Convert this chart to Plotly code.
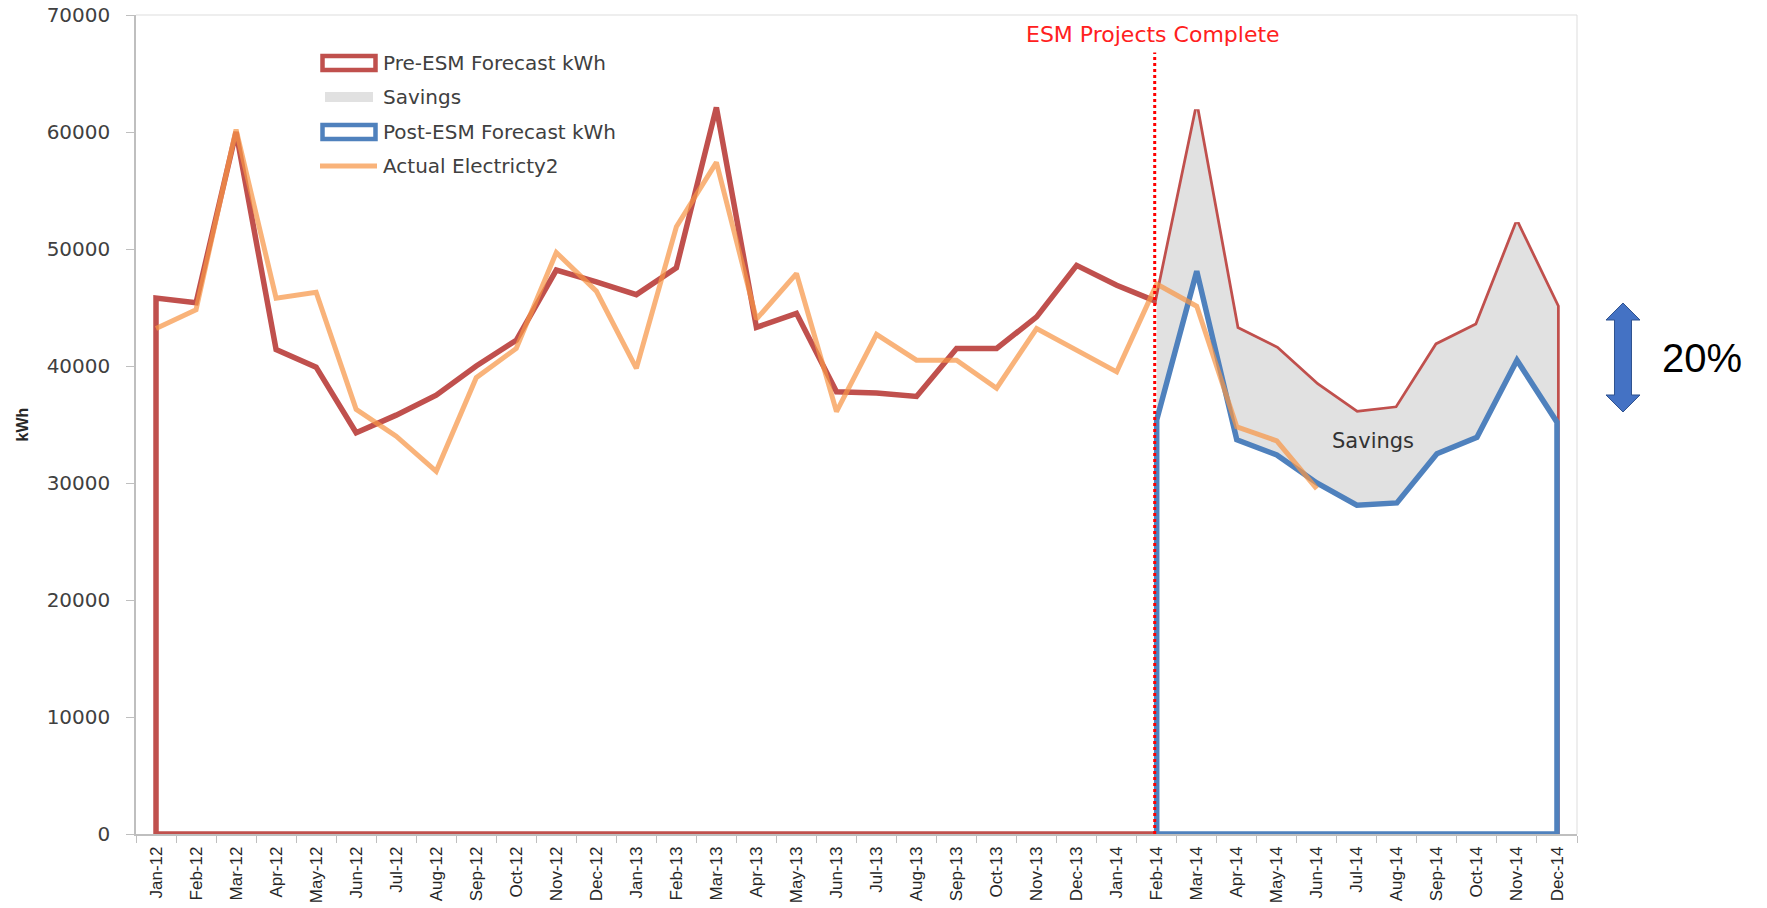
import plotly.graph_objects as go

# ---------------- data ----------------
categories = [
    "Jan-12", "Feb-12", "Mar-12", "Apr-12", "May-12", "Jun-12", "Jul-12", "Aug-12", "Sep-12", "Oct-12", "Nov-12", "Dec-12",
    "Jan-13", "Feb-13", "Mar-13", "Apr-13", "May-13", "Jun-13", "Jul-13", "Aug-13", "Sep-13", "Oct-13", "Nov-13", "Dec-13",
    "Jan-14", "Feb-14", "Mar-14", "Apr-14", "May-14", "Jun-14", "Jul-14", "Aug-14", "Sep-14", "Oct-14", "Nov-14", "Dec-14",
]

pre_esm = [
    45800, 45400, 60000, 41400, 39900, 34300, 35800, 37500, 40000, 42200, 48200, 47200,
    46100, 48400, 62100, 43300, 44500, 37800, 37700, 37400, 41500, 41500, 44200, 48600,
    46900, 45500, 61900, 43200, 41500, 38400, 36000, 36400, 41800, 43500, 52200, 45100,
]

post_esm = [None] * 25 + [35400, 48100, 33700, 32400, 30000, 28100, 28300, 32500, 33900, 40500, 35200]

actual = [
    43200, 44800, 60200, 45800, 46300, 36300, 34000, 31000, 39000, 41500, 49700, 46400,
    39800, 51900, 57400, 44000, 47900, 36100, 42700, 40500, 40500, 38100, 43200, 41400,
    39500, 47000, 45100, 34800, 33600, 29500, None, None, None, None, None, None,
]

series_names = ["Pre-ESM Forecast kWh", "Savings", "Post-ESM Forecast kWh", "Actual Electricty2"]
milestone = "Feb-14"
milestone_label = "ESM Projects Complete"
y_ticks = [0, 10000, 20000, 30000, 40000, 50000, 60000, 70000]

# ---------------- styles ----------------
RED = "#C0504D"
BLUE = "#4F81BD"
GRAY = "#E1E1E1"
ORANGE = "rgba(247,150,70,0.72)"
TXT = "#404040"

W, H = 1767, 908
L, R, T, B = 136, 190, 15, 74
PW, PH = W - L - R, H - T - B


def px(x):
    return (x - L) / PW


def py(y):
    return (H - B - y) / PH


fig = go.Figure()

# Pre-ESM area (white fill, red outline)
x_pre = [categories[0]] + categories + [categories[-1], categories[0]]
y_pre = [0] + pre_esm + [0, 0]
fig.add_trace(go.Scatter(x=x_pre, y=y_pre, mode="lines", fill="toself", fillcolor="white",
                         line=dict(color=RED, width=5.5), name=series_names[0], showlegend=False,
                         hoverinfo="skip"))

# Savings area (gray) from the milestone on
i0 = categories.index(milestone)
sav_x = [categories[i0]] + categories[i0:] + [categories[-1]]
sav_y = [0] + pre_esm[i0:] + [0]
fig.add_trace(go.Scatter(x=sav_x, y=sav_y, mode="lines", fill="toself", fillcolor=GRAY,
                         line=dict(color=GRAY, width=0), name=series_names[1], showlegend=False,
                         hoverinfo="skip"))

# Post-ESM area (white fill, blue outline)
post_vals = [v for v in post_esm if v is not None]
post_cats = [c for c, v in zip(categories, post_esm) if v is not None]
x_post = [post_cats[0]] + post_cats + [post_cats[-1], post_cats[0]]
y_post = [0] + post_vals + [0, 0]
fig.add_trace(go.Scatter(x=x_post, y=y_post, mode="lines", fill="toself", fillcolor="white",
                         line=dict(color=BLUE, width=5.5), name=series_names[2], showlegend=False,
                         hoverinfo="skip"))

# Actual line
fig.add_trace(go.Scatter(x=categories, y=actual, mode="lines", line=dict(color=ORANGE, width=5),
                         name=series_names[3], showlegend=False, connectgaps=False))

shapes = []
# milestone dotted line
shapes.append(dict(type="line", xref="x", yref="y", x0=i0 - 0.05, x1=i0 - 0.05, y0=0, y1=66800,
                   line=dict(color="#FF0000", width=3, dash="dot"), layer="above"))
# plot border top/right
shapes.append(dict(type="line", xref="paper", yref="paper", x0=0, x1=1, y0=1, y1=1,
                   line=dict(color="#DDDDDD", width=1), layer="below"))
shapes.append(dict(type="line", xref="paper", yref="paper", x0=1, x1=1, y0=0, y1=1,
                   line=dict(color="#DDDDDD", width=1), layer="below"))

# custom legend
legend_rows = [63, 97, 132, 166]
shapes.append(dict(type="rect", xref="paper", yref="paper", x0=px(322.5), x1=px(375.5),
                   y0=py(70), y1=py(56), fillcolor="white", line=dict(color=RED, width=4.5)))
shapes.append(dict(type="rect", xref="paper", yref="paper", x0=px(325), x1=px(373),
                   y0=py(102), y1=py(92), fillcolor=GRAY, line=dict(width=0)))
shapes.append(dict(type="rect", xref="paper", yref="paper", x0=px(322.5), x1=px(375.5),
                   y0=py(139), y1=py(125), fillcolor="white", line=dict(color=BLUE, width=4.5)))
shapes.append(dict(type="line", xref="paper", yref="paper", x0=px(320), x1=px(377),
                   y0=py(166), y1=py(166), line=dict(color=ORANGE, width=5)))

# double-headed arrow
pts = [(1623, 303), (1640, 320), (1631.5, 320), (1631.5, 395), (1640, 395), (1623, 412),
       (1606, 395), (1614.5, 395), (1614.5, 320), (1606, 320)]
path = "M " + " L ".join(f"{px(a):.5f},{py(b):.5f}" for a, b in pts) + " Z"
shapes.append(dict(type="path", xref="paper", yref="paper", path=path, fillcolor="#4472C4",
                   line=dict(color="#2F528F", width=1)))

annotations = []
for name, yy in zip(series_names, legend_rows):
    annotations.append(dict(xref="paper", yref="paper", x=px(381), y=py(yy), text=name,
                            showarrow=False, xanchor="left", yanchor="middle",
                            font=dict(family="DejaVu Sans", size=20, color=TXT)))
annotations.append(dict(xref="paper", yref="paper", x=px(1153), y=py(34), text=milestone_label,
                        showarrow=False, xanchor="center", yanchor="middle",
                        font=dict(family="DejaVu Sans", size=22, color="#FF2020")))
annotations.append(dict(xref="x", yref="y", x=categories.index("Jul-14"), y=33600, xshift=16,
                        text="Savings", showarrow=False,
                        font=dict(family="DejaVu Sans", size=21, color="#333333")))
annotations.append(dict(xref="paper", yref="paper", x=px(1702), y=py(358), text="20%",
                        showarrow=False, xanchor="center", yanchor="middle",
                        font=dict(family="Liberation Sans", size=40, color="black")))

fig.update_layout(
    width=W, height=H,
    margin=dict(l=L, r=R, t=T, b=B, pad=0, autoexpand=False),
    paper_bgcolor="white", plot_bgcolor="white",
    showlegend=False,
    shapes=shapes, annotations=annotations,
    xaxis=dict(type="category", categoryorder="array", categoryarray=categories,
               range=[-0.5, len(categories) - 0.5], automargin=False,
               tickson="boundaries", ticks="outside", ticklen=7, tickcolor="#BFBFBF",
               showline=True, linecolor="#BFBFBF", linewidth=1.5, showgrid=False, zeroline=False,
               tickangle=-90, ticklabelstandoff=4,
               tickfont=dict(family="Liberation Sans", size=17, color="#262626"),
               layer="below traces"),
    yaxis=dict(range=[0, 70000], tickvals=y_ticks, ticktext=[str(v) for v in y_ticks],
               automargin=False,
               ticks="outside", ticklen=8, tickcolor="#BFBFBF",
               showline=True, linecolor="#BFBFBF", linewidth=1.5, showgrid=False, zeroline=False,
               ticklabelstandoff=12,
               tickfont=dict(family="DejaVu Sans", size=20, color=TXT),
               title=dict(text="<b>kWh</b>", standoff=14,
                          font=dict(family="Liberation Sans", size=16, color="#262626")),
               layer="below traces"),
)

fig.write_html("out.html", config={"displayModeBar": False},
               post_script="document.body.style.margin='0';document.body.style.overflow='hidden';")
